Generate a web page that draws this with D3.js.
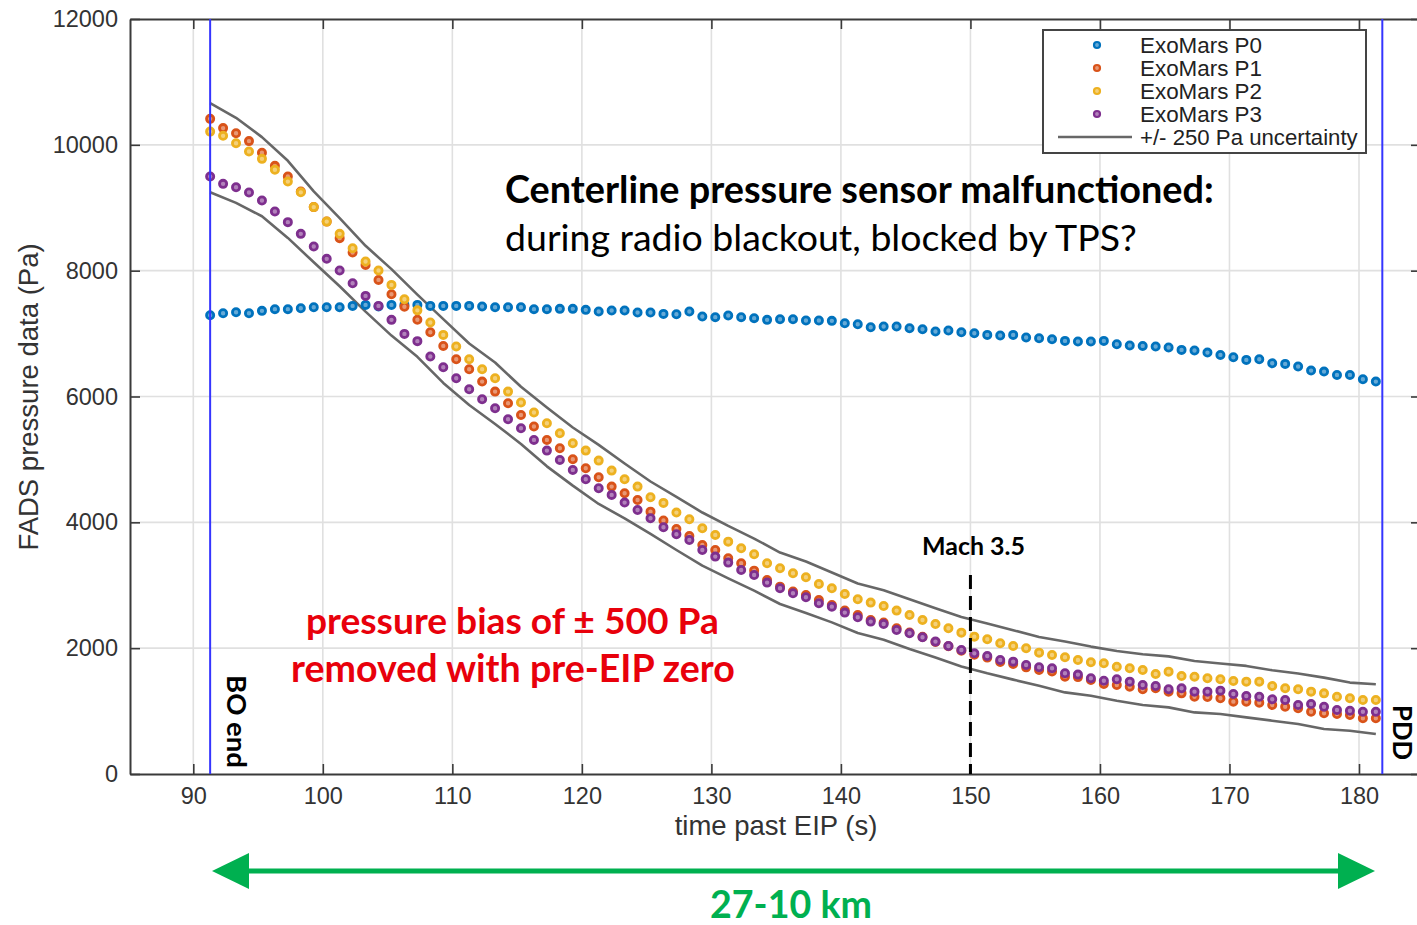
<!DOCTYPE html>
<html>
<head>
<meta charset="utf-8">
<script src="https://cdn.jsdelivr.net/npm/d3@7"></script>
<style>
  html, body { margin: 0; padding: 0; background: #fff; }
  svg { display: block; }
</style>
</head>
<body>
<svg id="chart" width="1417" height="925"></svg>
<script>
// ---------------- DATA ----------------
const xTicks = [90, 100, 110, 120, 130, 140, 150, 160, 170, 180];
const yTicks = [0, 2000, 4000, 6000, 8000, 10000, 12000];
const seriesNames = ["ExoMars P0", "ExoMars P1", "ExoMars P2", "ExoMars P3"];
const uncertaintyLabel = "+/- 250 Pa uncertainty";

// samples every 1 s, from t = 91.3 s to 181.3 s (91 samples)
const tStart = 91.3, tEnd = 181.3;

const p0 = [7292,7324,7340,7324,7361,7388,7388,7403,7419,7419,
            7419,7440,7456,7430,7456,7456,7456,7440,7440,7440,
            7440,7430,7419,7419,7419,7388,7388,7393,7393,7377,
            7350,7366,7366,7334,7334,7313,7308,7350,7271,7261,
            7287,7261,7245,7218,7228,7228,7207,7207,7202,7165,
            7149,7101,7112,7112,7085,7070,7032,7048,7022,7006,
            6979,6969,6979,6937,6926,6910,6884,6873,6873,6884,
            6831,6810,6804,6794,6778,6741,6730,6698,6661,6624,
            6582,6593,6529,6518,6476,6412,6396,6343,6343,6275,
            6237];

const p1 = [10413,10266,10185,10059,9873,9666,9496,9258,9010,8780,
            8517,8288,8092,7853,7626,7427,7220,7021,6804,6593,
            6434,6237,6078,5893,5707,5522,5310,5177,5002,4860,
            4717,4568,4462,4356,4170,4030,3895,3784,3641,3561,
            3429,3349,3232,3084,2978,2899,2846,2766,2687,2597,
            2528,2448,2406,2316,2250,2180,2100,2030,1960,1895,
            1850,1780,1750,1695,1653,1630,1547,1540,1494,1431,
            1415,1388,1346,1362,1309,1282,1229,1225,1203,1150,
            1150,1134,1097,1070,1044,990,965,954,938,885,
            885];

const p2 = [10210,10143,10026,9895,9777,9603,9416,9245,9010,8780,
            8585,8357,8145,8002,7774,7546,7369,7175,6979,6794,
            6593,6434,6291,6078,5904,5745,5575,5416,5257,5140,
            4981,4822,4685,4568,4399,4309,4155,4049,3906,3800,
            3693,3588,3492,3349,3270,3190,3127,3021,2952,2862,
            2777,2724,2671,2597,2528,2448,2385,2316,2247,2183,
            2141,2078,2035,1998,1929,1892,1855,1812,1775,1760,
            1706,1680,1653,1590,1627,1558,1547,1521,1505,1478,
            1468,1468,1399,1362,1346,1309,1282,1229,1203,1176,
            1176];

const p3 = [9496,9380,9327,9242,9115,8940,8771,8585,8383,8188,
            8002,7801,7599,7440,7218,6995,6880,6635,6466,6291,
            6116,5957,5814,5639,5496,5310,5140,4992,4833,4685,
            4542,4436,4314,4197,4065,3922,3810,3720,3561,3455,
            3360,3243,3164,3042,2952,2873,2809,2714,2660,2565,
            2491,2422,2385,2289,2237,2173,2104,2035,1971,1918,
            1876,1812,1786,1733,1696,1680,1601,1580,1521,1483,
            1505,1468,1415,1399,1346,1362,1309,1309,1325,1272,
            1240,1229,1187,1176,1097,1113,1070,1017,1006,990,
            990];

// uncertainty envelope, samples every 2 s from 91.3 s to 181.3 s (46 samples)
const upperBound = [10663,10430,10123,9746,9260,8835,8395,8024,7619,7229,
                    6843,6541,6154,5825,5507,5231,4935,4649,4405,4156,
                    3943,3742,3520,3377,3202,3027,2921,2778,2635,2497,
                    2391,2285,2179,2105,2025,1956,1903,1870,1797,1755,
                    1718,1649,1596,1532,1453,1426];
const lowerBound = [9246,9077,8865,8521,8133,7752,7349,6968,6630,6216,
                    5866,5564,5246,4890,4583,4292,4064,3815,3560,3311,
                    3110,2914,2702,2559,2410,2241,2135,1987,1850,1710,
                    1600,1500,1403,1297,1244,1165,1096,1059,979,953,
                    900,847,794,715,688,635];

// event markers (s)
const boEnd = 91.3, pdd = 181.8, mach35 = 150;

const seriesColors = ["#0072BD", "#D95319", "#EDB120", "#7E2F8E"];

// ---------------- LAYOUT ----------------
const svg = d3.select("#chart");
const L = 130, R = 1421, T = 19, B = 774;

const x = d3.scaleLinear().domain([90, 180]).range([193.3, 1359]);
const y = d3.scaleLinear().domain([0, 12000]).range([B, T]);

const times1 = d3.range(tStart, tEnd + 0.05, 1);
const times2 = d3.range(tStart, tEnd + 0.05, 2);

const axisColor = "#3a3a3a";
const tickFont = "'Liberation Sans', Arial, Helvetica, sans-serif";
const annFont = "Lato, 'Open Sans', sans-serif";

// grid
const grid = svg.append("g");
grid.selectAll("line.gx").data(xTicks).join("line")
  .attr("x1", d => x(d)).attr("x2", d => x(d))
  .attr("y1", T).attr("y2", B)
  .attr("stroke", "#e0e0e0").attr("stroke-width", 1.6);
grid.selectAll("line.gy").data(yTicks.filter(d => d > 0 && d < 12000)).join("line")
  .attr("x1", L).attr("x2", R)
  .attr("y1", d => y(d)).attr("y2", d => y(d))
  .attr("stroke", "#e0e0e0").attr("stroke-width", 1.6);

// axes (inward ticks on all four sides)
function styleAxis(g) {
  g.selectAll("path.domain").attr("stroke", axisColor).attr("stroke-width", 2);
  g.selectAll(".tick line").attr("stroke", axisColor).attr("stroke-width", 1.6);
  g.selectAll(".tick text").attr("fill", "#333").attr("font-family", tickFont).attr("font-size", 23.5);
}
const xFull = x.copy().domain([x.invert(L), x.invert(R)]).range([L, R]);
const yAx = svg.append("g").attr("transform", `translate(${L},0)`)
  .call(d3.axisLeft(y).tickValues(yTicks).tickSizeInner(-10).tickSizeOuter(0).tickPadding(12).tickFormat(d3.format("d")));
styleAxis(yAx);
const xAx = svg.append("g").attr("transform", `translate(0,${B})`)
  .call(d3.axisBottom(xFull).tickValues(xTicks).tickSizeInner(-10).tickSizeOuter(0).tickPadding(16).tickFormat(d3.format("d")));
styleAxis(xAx);
xAx.selectAll(".tick text").attr("dy", "0.6em");
const xTop = svg.append("g").attr("transform", `translate(0,${T})`)
  .call(d3.axisTop(xFull).tickValues(xTicks).tickSizeInner(-10).tickSizeOuter(0).tickFormat(""));
styleAxis(xTop);
const yRight = svg.append("g").attr("transform", `translate(${R},0)`)
  .call(d3.axisRight(y).tickValues(yTicks).tickSizeInner(-10).tickSizeOuter(0).tickFormat(""));
styleAxis(yRight);

// axis labels
svg.append("text").text("time past EIP (s)")
  .attr("x", 776).attr("y", 835).attr("text-anchor", "middle")
  .attr("font-family", tickFont).attr("font-size", 27.5).attr("fill", "#333");
svg.append("text").text("FADS pressure data (Pa)")
  .attr("transform", "translate(38,397) rotate(-90)").attr("text-anchor", "middle")
  .attr("font-family", tickFont).attr("font-size", 27.5).attr("fill", "#333");

// uncertainty lines
const lineGen = d3.line().x(d => x(d[0])).y(d => y(d[1]));
[upperBound, lowerBound].forEach(arr => {
  svg.append("path").datum(times2.map((t, i) => [t, arr[i]]))
    .attr("d", lineGen).attr("fill", "none")
    .attr("stroke", "#676767").attr("stroke-width", 2.6).attr("stroke-linejoin", "round");
});

// dots
const allSeries = [p0, p1, p2, p3];
allSeries.forEach((vals, si) => {
  const c = seriesColors[si];
  const light = d3.interpolateRgb(c, "#ffffff")(0.4);
  svg.append("g").selectAll("circle").data(vals.map((v, i) => [times1[i], v])).join("circle")
    .attr("cx", d => x(d[0])).attr("cy", d => y(d[1])).attr("r", 3.6)
    .attr("fill", light).attr("stroke", c).attr("stroke-width", 2.8);
});

// event lines
[boEnd, pdd].forEach(t => {
  svg.append("line").attr("x1", x(t)).attr("x2", x(t)).attr("y1", T).attr("y2", B)
    .attr("stroke", "#3535ff").attr("stroke-width", 2);
});
svg.append("line").attr("x1", x(mach35)).attr("x2", x(mach35)).attr("y1", 575).attr("y2", B)
  .attr("stroke", "#000").attr("stroke-width", 3).attr("stroke-dasharray", "14,7");

// legend
const lg = svg.append("g");
lg.append("rect").attr("x", 1043).attr("y", 30).attr("width", 323).attr("height", 123)
  .attr("fill", "#fff").attr("stroke", "#444").attr("stroke-width", 2);
seriesNames.forEach((n, i) => {
  const ry = 45 + i * 23;
  const c = seriesColors[i];
  lg.append("circle").attr("cx", 1097).attr("cy", ry).attr("r", 3)
    .attr("fill", d3.interpolateRgb(c, "#fff")(0.4)).attr("stroke", c).attr("stroke-width", 2.2);
  lg.append("text").text(n).attr("x", 1140).attr("y", ry + 8)
    .attr("font-family", tickFont).attr("font-size", 22.4).attr("fill", "#222");
});
lg.append("line").attr("x1", 1058).attr("x2", 1132).attr("y1", 137).attr("y2", 137)
  .attr("stroke", "#676767").attr("stroke-width", 2.6);
lg.append("text").text(uncertaintyLabel).attr("x", 1140).attr("y", 145)
  .attr("font-family", tickFont).attr("font-size", 22.2).attr("fill", "#222");

// annotations
function fit(sel, target) {
  const len = sel.node().getComputedTextLength();
  const fs = parseFloat(sel.attr("font-size"));
  sel.attr("font-size", fs * target / len);
  return sel;
}
function ann(txt, xx, yy, w, opts) {
  const t = svg.append("text").text(txt).attr("x", xx).attr("y", yy)
    .attr("font-family", annFont).attr("font-size", 30)
    .attr("font-weight", opts.bold ? 700 : 400).attr("fill", opts.color || "#000");
  if (opts.anchor) t.attr("text-anchor", opts.anchor);
  if (opts.transform) t.attr("transform", opts.transform);
  fit(t, w);
  return t;
}
ann("Centerline pressure sensor malfunctioned:", 505, 203, 709, { bold: true });
ann("during radio blackout, blocked by TPS?", 505, 251, 632, {});
ann("pressure bias of ± 500 Pa", 306, 634, 413, { bold: true, color: "#e8000b" });
ann("removed with pre-EIP zero", 291, 682, 444, { bold: true, color: "#e8000b" });
ann("Mach 3.5", 922, 555, 103, { bold: true });
ann("BO end", 0, 0, 93, { bold: true, transform: "translate(227,675) rotate(90)" });
ann("PDD", 0, 0, 55, { bold: true, transform: "translate(1393,705) rotate(90)" });

// green double arrow
const green = "#00b050";
svg.append("line").attr("x1", 240).attr("x2", 1347).attr("y1", 871).attr("y2", 871)
  .attr("stroke", green).attr("stroke-width", 5);
svg.append("path").attr("d", "M212,871 L249,853 L249,889 Z").attr("fill", green);
svg.append("path").attr("d", "M1375,871 L1338,853 L1338,889 Z").attr("fill", green);
ann("27-10 km", 710, 918, 162, { bold: true, color: green });
</script>
</body>
</html>
